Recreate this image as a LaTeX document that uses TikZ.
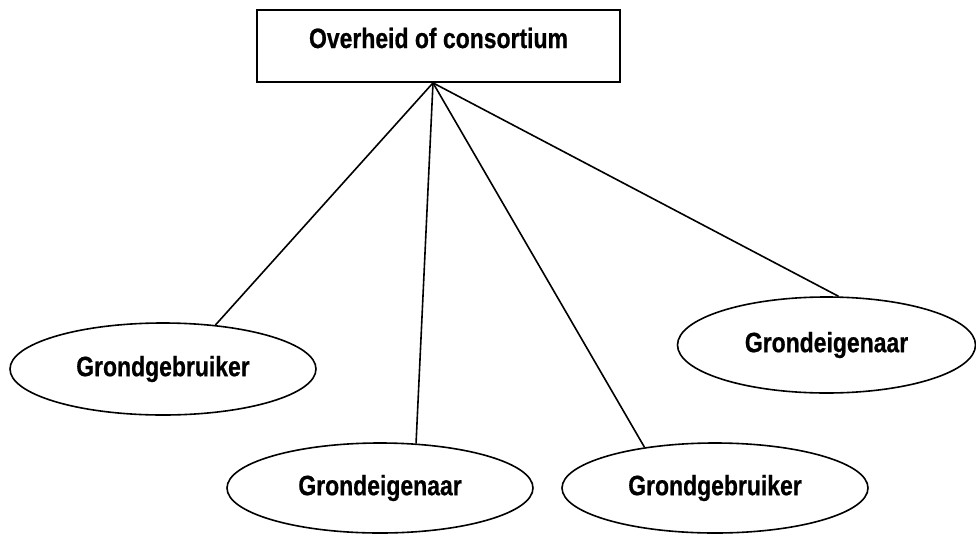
\documentclass[tikz,border=0pt]{standalone}
\usepackage{fontspec}
\setmainfont{Liberation Sans}[FakeStretch=0.82,BoldFeatures={FakeBold=0.6}]
\usetikzlibrary{shapes.geometric}
\begin{document}
\begin{tikzpicture}[x=1pt,y=-1pt,
  lbl/.style={font=\fontsize{28}{32}\selectfont\bfseries},
  topbox/.style={draw,line width=1.8pt,minimum width=363pt,minimum height=72pt,inner sep=0pt},
  oval/.style={draw,ellipse,line width=1.6pt,minimum width=306pt,minimum height=92pt,inner sep=0pt,lbl},
  link/.style={line width=1.6pt}]
\useasboundingbox (0,0) rectangle (976,535);
\node[topbox] (box) at (438.5,46) {};
\node[lbl] (boxtext) at (438.5,38) {Overheid of consortium};
\coordinate (hub) at ([xshift=-5.5pt]box.south);
\node[oval] (e1) at (163,369) {Grondgebruiker};
\node[oval,minimum height=90pt] (e2) at (380,488) {Grondeigenaar};
\node[oval,minimum height=90pt] (e3) at (715,488) {Grondgebruiker};
\node[oval,minimum width=298pt,minimum height=96pt] (e4) at (826.5,345) {Grondeigenaar};
\draw[link] (hub) -- (e1.40);
\draw[link] (hub) -- (e2.51);
\draw[link] (hub) -- (e3.150);
\draw[link] (hub) -- (e4.76);
\end{tikzpicture}
\end{document}
